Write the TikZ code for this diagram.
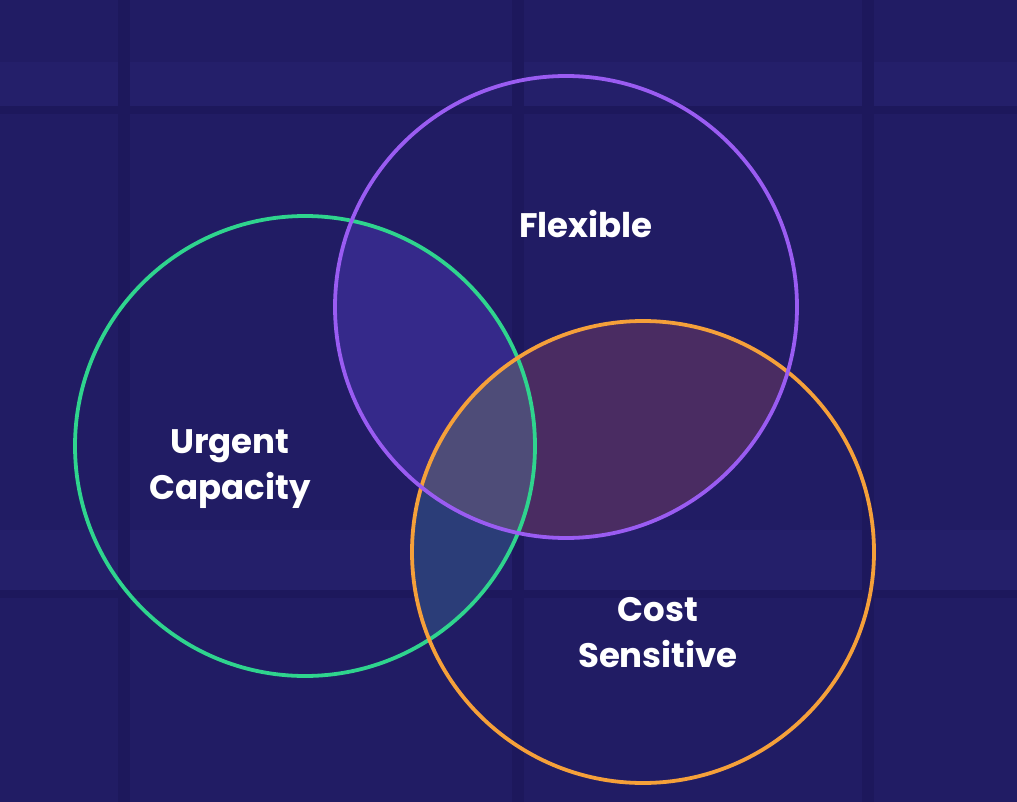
\documentclass[tikz,border=0pt]{standalone}
\usepackage{fontspec}
\setmainfont{Poppins}
\definecolor{bgnavy}{HTML}{211C64}
\definecolor{bgpanel}{HTML}{241F6A}
\definecolor{bgdark}{HTML}{1D185C}
\definecolor{ringgreen}{HTML}{2FD48E}
\definecolor{ringpurple}{HTML}{9A5CF2}
\definecolor{ringorange}{HTML}{F5A03A}
\definecolor{fillgp}{HTML}{35298A}
\definecolor{fillpo}{HTML}{4A2C62}
\definecolor{fillgo}{HTML}{2B3D78}
\definecolor{fillall}{HTML}{4E4C78}
\tikzset{
  ring/.style={line width=3.8pt},
  label/.style={text=white, font=\fontsize{34}{46}\selectfont\bfseries, align=center},
}
\begin{document}
\begin{tikzpicture}[x=1pt,y=-1pt]
  % backdrop
  \fill[bgnavy] (0,0) rectangle (1017,802);
  \useasboundingbox (0,0) rectangle (1017,802);
  % faint equipment panels in the backdrop
  \fill[bgpanel] (0,62) rectangle (1017,106);
  \fill[bgpanel] (0,530) rectangle (1017,590);
  \fill[bgdark] (0,106) rectangle (1017,114);
  \fill[bgdark] (0,590) rectangle (1017,598);
  \foreach \x in {118,512,862} {\fill[bgdark] (\x,0) rectangle (\x+12,802);}

  \coordinate (cg) at (305,446);
  \coordinate (cp) at (566,307);
  \coordinate (co) at (643,552);

  % pairwise overlaps
  \begin{scope}
    \clip (cg) circle (230);
    \fill[fillgp] (cp) circle (231);
    \fill[fillgo] (co) circle (231);
  \end{scope}
  \begin{scope}
    \clip (cp) circle (231);
    \fill[fillpo] (co) circle (231);
  \end{scope}
  % triple overlap
  \begin{scope}
    \clip (cg) circle (230);
    \clip (cp) circle (231);
    \fill[fillall] (co) circle (231);
  \end{scope}

  % rings
  \draw[ring, ringgreen] (cg) circle (230);
  \draw[ring, ringorange] (co) circle (231);
  \draw[ring, ringpurple] (cp) circle (231);

  % set names
  \node[label] (flex) at (586,224) {Flexible};
  \node[label] (urgent) at (230,469) {Urgent\\Capacity};
  \node[label] (cost) at (658,633) {Cost\\Sensitive};
\end{tikzpicture}
\end{document}
